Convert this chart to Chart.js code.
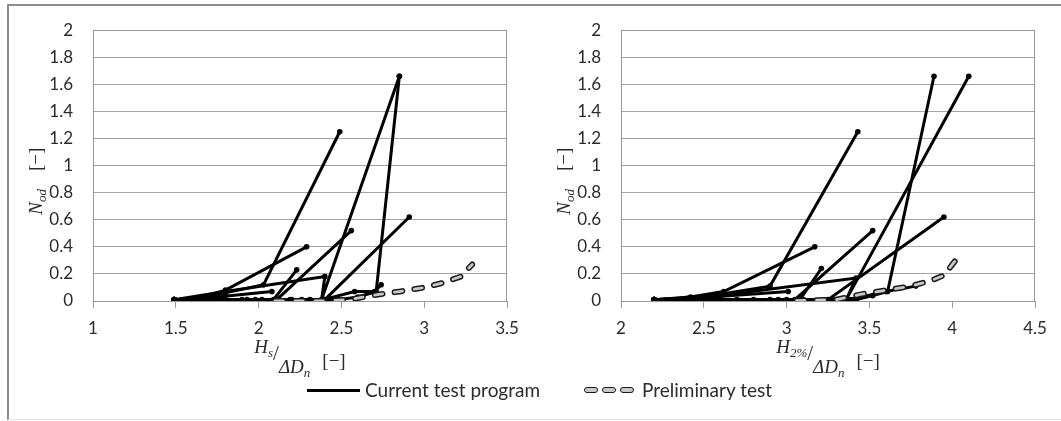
<!DOCTYPE html>
<html>
<head>
<meta charset="utf-8">
<script src="https://cdn.jsdelivr.net/npm/chart.js@4.4.1/dist/chart.umd.min.js"></script>
<style>
  html, body { margin: 0; padding: 0; background: #fff; }
  body { width: 1061px; height: 421px; position: relative; overflow: hidden; font-family: Lato, sans-serif; }
  #frame { position: absolute; left: 7px; top: 4px; width: 1054px; height: 416px; box-sizing: border-box;
           border-top: 2px solid #8c8c8c; border-left: 2px solid #8c8c8c; border-bottom: 1px solid #e2e2e2; }
  canvas { position: absolute; top: 0; }
  .lg-text { position: absolute; top: 378px; font-size: 19px; line-height: 24px; color: #2b2b2b; white-space: nowrap; }
  .lg-solid { position: absolute; left: 307px; top: 389px; width: 53px; height: 3px; background: #000; }
  .lg-dash { position: absolute; top: 387px; width: 12px; height: 4px; border: 1.5px solid #1a1a1a; border-radius: 4px; background: #c9c9c9; }
</style>
</head>
<body>
<div id="frame"></div>
<canvas id="hsChart" width="530" height="421" style="left:0px"></canvas>
<canvas id="h2Chart" width="531" height="421" style="left:530px"></canvas>
<div class="lg-solid"></div>
<div class="lg-text" id="lgCurrent" style="left:365px"></div>
<div class="lg-dash" style="left:584px"></div>
<div class="lg-dash" style="left:602px"></div>
<div class="lg-dash" style="left:620px"></div>
<div class="lg-text" id="lgPrelim" style="left:642px"></div>

<script>
// Axis ticks
const yTicks  = [0, 0.2, 0.4, 0.6, 0.8, 1, 1.2, 1.4, 1.6, 1.8, 2];
const hsTicks = [1, 1.5, 2, 2.5, 3, 3.5];
const h2Ticks = [2, 2.5, 3, 3.5, 4, 4.5];

const legendLabels = ['Current test program', 'Preliminary test'];

// Damage N_od against Hs/(ΔDn): one list of [x, y] per test run, in test order
const hsRun1 = [[1.49, 0.01], [1.62, 0.02], [1.80, 0.06], [2.03, 0.12], [2.49, 1.25]];
const hsRun2 = [[1.49, 0.01], [1.63, 0.02], [1.80, 0.08], [2.29, 0.40]];
const hsRun3 = [[1.49, 0.01], [1.80, 0.07], [2.40, 0.18], [2.38, 0.01], [2.85, 1.66]];
const hsRun4 = [[1.49, 0.01], [1.70, 0.01], [1.90, 0.01], [2.09, 0.01], [2.23, 0.23]];
const hsRun5 = [[1.49, 0.01], [1.80, 0.01], [1.98, 0.01], [2.11, 0.01], [2.56, 0.52]];
const hsRun6 = [[1.49, 0.01], [1.93, 0.01], [2.20, 0.01], [2.31, 0.01], [2.40, 0.01], [2.91, 0.62]];
const hsRun7 = [[1.49, 0.01], [2.02, 0.01], [2.26, 0.01], [2.48, 0.01], [2.60, 0.03], [2.71, 0.07], [2.85, 1.66]];
const hsRun8 = [[2.19, 0.01], [2.39, 0.01], [2.58, 0.07], [2.70, 0.07], [2.74, 0.12]];
const hsRun9 = [[1.49, 0.01], [1.75, 0.03], [2.08, 0.07]];
const hsPrelim = [[2.10, 0.00], [2.40, 0.00], [2.55, 0.01], [2.68, 0.04], [2.85, 0.07], [3.00, 0.10],
                  [3.10, 0.13], [3.22, 0.18], [3.29, 0.27]];

// Damage N_od against H2%/(ΔDn)
const h2Run1 = [[2.20, 0.01], [2.40, 0.02], [2.60, 0.05], [2.90, 0.11], [3.43, 1.25]];
const h2Run2 = [[2.20, 0.01], [2.42, 0.03], [2.62, 0.07], [3.17, 0.40]];
const h2Run3 = [[2.20, 0.01], [2.60, 0.04], [3.42, 0.17], [3.36, 0.01], [4.10, 1.66]];
const h2Run4 = [[2.20, 0.01], [2.60, 0.01], [2.90, 0.01], [3.08, 0.01], [3.21, 0.24]];
const h2Run5 = [[2.20, 0.01], [2.70, 0.01], [2.95, 0.01], [3.05, 0.01], [3.52, 0.52]];
const h2Run6 = [[2.20, 0.01], [2.80, 0.01], [3.10, 0.01], [3.25, 0.01], [3.95, 0.62]];
const h2Run7 = [[2.20, 0.01], [3.00, 0.01], [3.30, 0.01], [3.42, 0.01], [3.52, 0.04], [3.61, 0.07], [3.89, 1.66]];
const h2Run8 = [[3.10, 0.01], [3.42, 0.02], [3.60, 0.07], [3.78, 0.11]];
const h2Run9 = [[2.20, 0.01], [2.55, 0.03], [3.01, 0.07]];
const h2Prelim = [[3.00, 0.00], [3.30, 0.01], [3.45, 0.05], [3.60, 0.08], [3.75, 0.11], [3.87, 0.15],
                  [3.95, 0.19], [4.02, 0.30]];

document.getElementById('lgCurrent').textContent = legendLabels[0];
document.getElementById('lgPrelim').textContent = legendLabels[1];

const toPoints = arr => arr.map(([x, y]) => ({ x, y }));

function runDataset(arr) {
  return {
    data: toPoints(arr), showLine: true, borderColor: '#000', borderWidth: 3,
    pointRadius: 2.8, pointBackgroundColor: '#000', pointBorderWidth: 0, order: 2
  };
}
// outlined dashes: a dark wide dash with a light narrow dash on top
function prelimDatasets(arr, dashOffset) {
  const base = { data: toPoints(arr), showLine: true, pointRadius: 0, borderDash: [8, 12],
                 borderDashOffset: dashOffset, borderCapStyle: 'round' };
  return [
    Object.assign({}, base, { borderColor: '#1a1a1a', borderWidth: 5.8, order: 1 }),
    Object.assign({}, base, { data: toPoints(arr), borderColor: '#c8c8c8', borderWidth: 2.8, order: 0 })
  ];
}

const SERIF = '"Liberation Serif", "DejaVu Serif", serif';
const textColor = '#2b2b2b';

function drawRuns(ctx, runs, x0, baseline) {
  let x = x0;
  for (const r of runs) {
    if (r.gap) { x += r.gap; continue; }
    ctx.font = r.f;
    ctx.fillText(r.t, x, baseline + (r.dy || 0));
    x += ctx.measureText(r.t).width + (r.after || 0);
  }
  return x;
}
function runsWidth(ctx, runs) {
  let w = 0;
  for (const r of runs) {
    if (r.gap) { w += r.gap; continue; }
    ctx.font = r.f; w += ctx.measureText(r.t).width + (r.after || 0);
  }
  return w;
}

function decorPlugin(xRuns) {
  const yRuns = [
    { t: 'N', f: 'italic 19px ' + SERIF },
    { t: 'od', f: 'italic 13px ' + SERIF, dy: 4 },
    { gap: 18 },
    { t: '[\u2212]', f: '19px ' + SERIF }
  ];
  return {
    id: 'decor',
    beforeDatasetsDraw(chart) {
      const { ctx, chartArea: a } = chart;
      ctx.save();
      ctx.strokeStyle = '#9a9a9a';
      ctx.lineWidth = 1;
      ctx.strokeRect(Math.round(a.left) + 0.5, Math.round(a.top) + 0.5,
                     Math.round(a.right - a.left) - 1, Math.round(a.bottom - a.top));
      ctx.restore();
    },
    afterDraw(chart) {
      const { ctx, chartArea: a } = chart;
      ctx.save();
      ctx.fillStyle = textColor;
      ctx.textBaseline = 'alphabetic';
      ctx.textAlign = 'left';
      // x title
      const w = runsWidth(ctx, xRuns);
      drawRuns(ctx, xRuns, (a.left + a.right) / 2 - w / 2, 353);
      // y title, rotated
      const wy = runsWidth(ctx, yRuns);
      ctx.translate(a.left - 51, a.top + 151 + wy / 2);
      ctx.rotate(-Math.PI / 2);
      drawRuns(ctx, yRuns, 0, 0);
      ctx.restore();
    }
  };
}

function makeChart(id, runs, prelim, dashOffset, xTicks, padRight, yWidth, xRuns) {
  const datasets = runs.map(runDataset).concat(prelimDatasets(prelim, dashOffset));
  return new Chart(document.getElementById(id), {
    type: 'scatter',
    data: { datasets },
    options: {
      responsive: false,
      animation: false,
      events: [],
      layout: { padding: { left: 0, right: padRight, top: 27, bottom: 0 } },
      plugins: { legend: { display: false }, tooltip: { enabled: false } },
      scales: {
        x: {
          type: 'linear', min: xTicks[0], max: xTicks[xTicks.length - 1],
          afterBuildTicks: s => { s.ticks = xTicks.map(v => ({ value: v })); },
          afterFit: s => { s.height = 120; },
          grid: { drawOnChartArea: false, drawTicks: true, tickLength: 7, color: '#9a9a9a' },
          border: { display: true, color: '#9a9a9a', width: 1 },
          ticks: { padding: 10, color: textColor, font: { family: 'Lato', size: 17 },
                   callback: v => String(v), maxRotation: 0, autoSkip: false }
        },
        y: {
          type: 'linear', min: 0, max: 2,
          afterBuildTicks: s => { s.ticks = yTicks.map(v => ({ value: v })); },
          afterFit: s => { s.width = yWidth; },
          grid: { color: '#a3a3a3', lineWidth: 1, drawTicks: false },
          border: { display: true, color: '#9a9a9a', width: 1 },
          ticks: { padding: 20, color: textColor, font: { family: 'Lato', size: 17 },
                   callback: v => String(Math.round(v * 10) / 10), autoSkip: false }
        }
      }
    },
    plugins: [decorPlugin(xRuns)]
  });
}

const hsTitle = [
  { t: 'H', f: 'italic 19px ' + SERIF },
  { t: 's', f: 'italic 13px ' + SERIF, dy: 4 },
  { t: '/', f: '21px ' + SERIF, dy: 7 },
  { t: '\u0394D', f: 'italic 19px ' + SERIF, dy: 20 },
  { t: 'n', f: 'italic 13px ' + SERIF, dy: 24 },
  { gap: 12 },
  { t: '[\u2212]', f: '19px ' + SERIF, dy: 14 }
];
const h2Title = [
  { t: 'H', f: 'italic 19px ' + SERIF },
  { t: '2%', f: 'italic 13px ' + SERIF, dy: 4 },
  { t: '/', f: '21px ' + SERIF, dy: 7 },
  { t: '\u0394D', f: 'italic 19px ' + SERIF, dy: 20 },
  { t: 'n', f: 'italic 13px ' + SERIF, dy: 24 },
  { gap: 12 },
  { t: '[\u2212]', f: '19px ' + SERIF, dy: 14 }
];

makeChart('hsChart',
  [hsRun1, hsRun2, hsRun3, hsRun4, hsRun5, hsRun6, hsRun7, hsRun8, hsRun9],
  hsPrelim, 0, hsTicks, 23, 93, hsTitle);
makeChart('h2Chart',
  [h2Run1, h2Run2, h2Run3, h2Run4, h2Run5, h2Run6, h2Run7, h2Run8, h2Run9],
  h2Prelim, 10, h2Ticks, 26, 91, h2Title);
</script>
</body>
</html>
